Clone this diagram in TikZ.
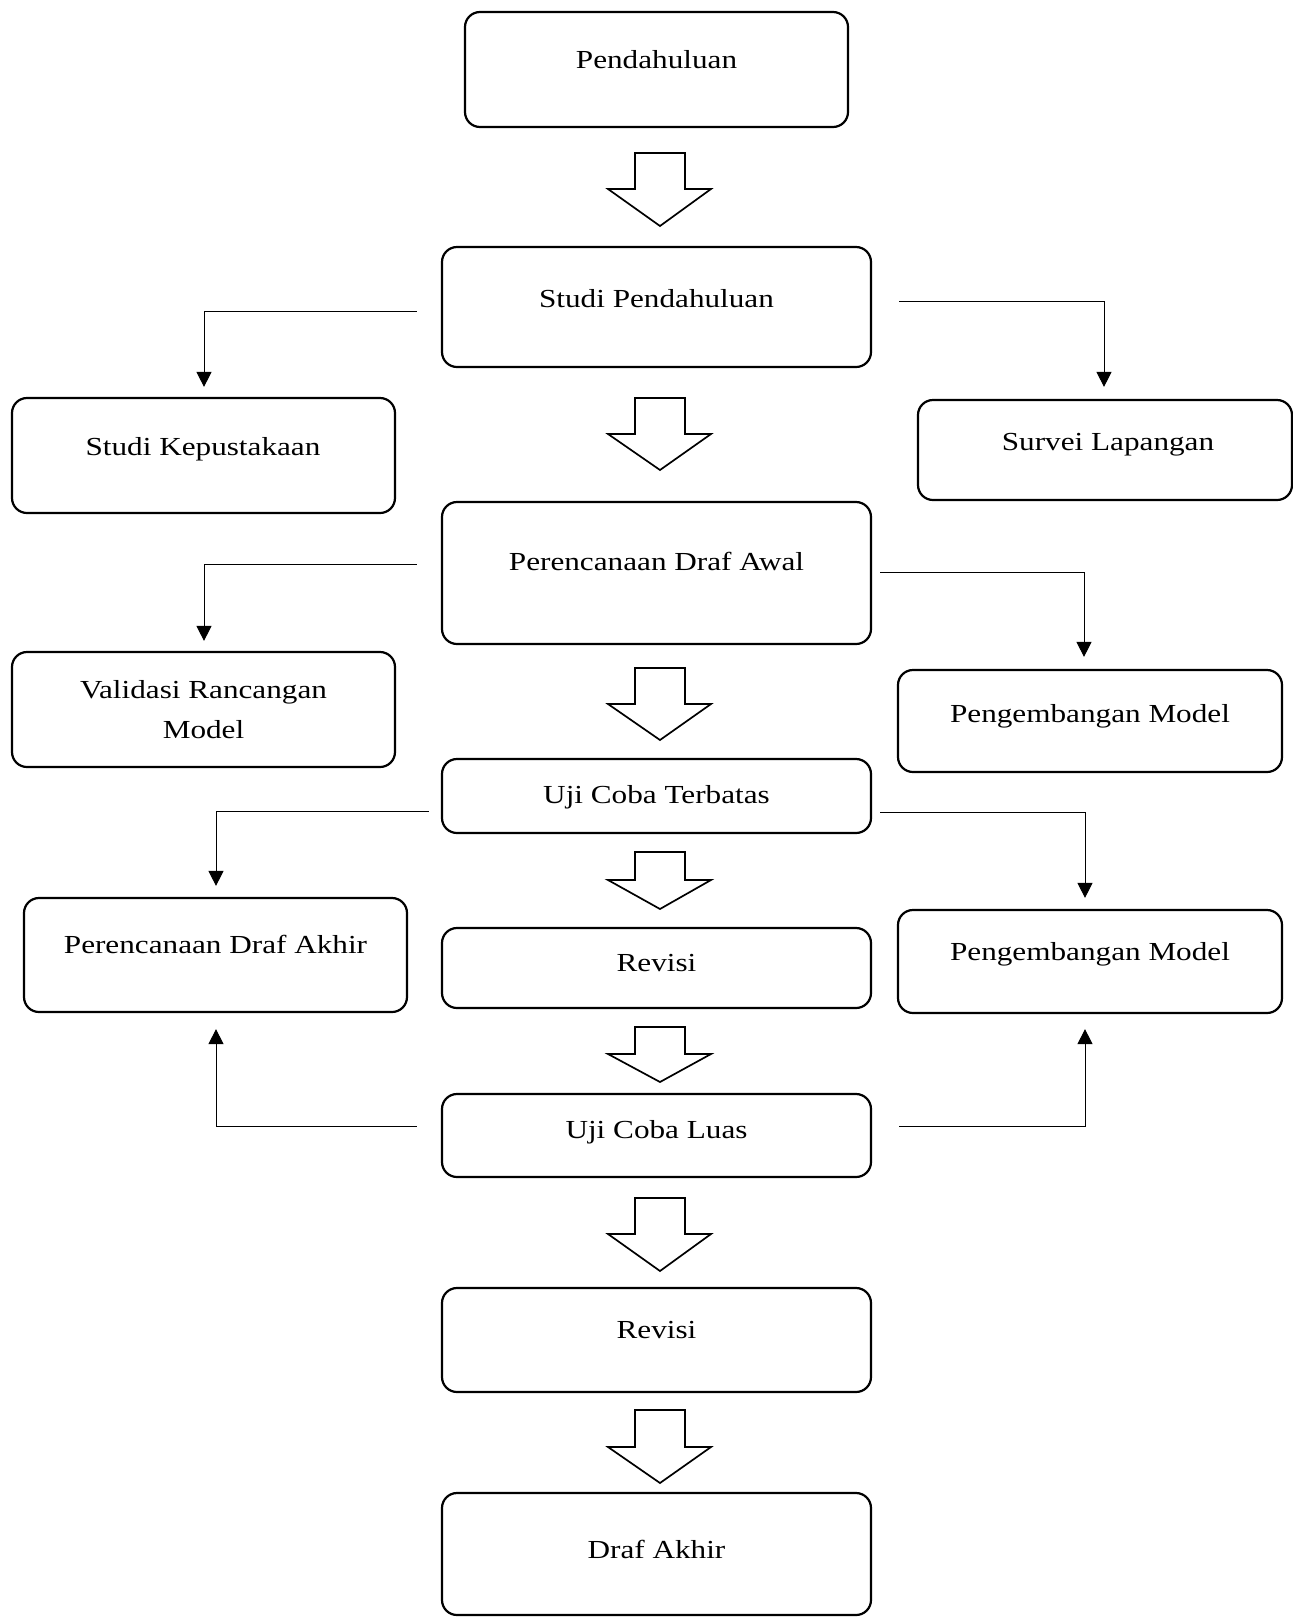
\documentclass[tikz,border=0pt]{standalone}
\usepackage{fontspec}
\setmainfont{Liberation Serif}[FakeStretch=1.2]
\usetikzlibrary{arrows.meta}
\newcommand\flowarrow[3]{\draw[barrow] (635,#1) -- (685,#1) -- (685,#2) -- (711,#2) -- (660,#3) -- (608,#2) -- (635,#2) -- cycle;}
\begin{document}
\begin{tikzpicture}[x=0.5pt,y=-0.5pt,
  box/.style={draw,rounded corners=7.5pt,line width=1.1pt,inner sep=0pt},
  lbl/.style={anchor=base,inner sep=0pt,font=\fontsize{13pt}{15.6pt}\selectfont},
  conn/.style={line width=0.5pt,-{Triangle[length=7.5pt,width=7.5pt]}},
  barrow/.style={draw,line width=0.85pt,line join=miter,fill=white}]
\useasboundingbox[fill=white] (0,0) rectangle (1293,1618);

% boxes
\node[box,minimum width=191.5pt,minimum height=57.5pt] (pend) at (656.5,69.5) {};
\node[box,minimum width=214.5pt,minimum height=60pt] (sp) at (656.5,307) {};
\node[box,minimum width=191.5pt,minimum height=57.5pt] (sk) at (203.5,455.5) {};
\node[box,minimum width=187pt,minimum height=50pt] (sl) at (1105,450) {};
\node[box,minimum width=214.5pt,minimum height=71pt] (pda) at (656.5,573) {};
\node[box,minimum width=191.5pt,minimum height=57.5pt] (vrm) at (203.5,709.5) {};
\node[box,minimum width=192pt,minimum height=51pt] (pm1) at (1090,721) {};
\node[box,minimum width=214.5pt,minimum height=37pt] (uct) at (656.5,796) {};
\node[box,minimum width=191.5pt,minimum height=57pt] (pdak) at (215.5,955) {};
\node[box,minimum width=214.5pt,minimum height=40pt] (rev1) at (656.5,968) {};
\node[box,minimum width=192pt,minimum height=51.5pt] (pm2) at (1090,961.5) {};
\node[box,minimum width=214.5pt,minimum height=41.5pt] (ucl) at (656.5,1135.5) {};
\node[box,minimum width=214.5pt,minimum height=52pt] (rev2) at (656.5,1340) {};
\node[box,minimum width=214.5pt,minimum height=61pt] (da) at (656.5,1554) {};

% labels
\node[lbl] (pend-t) at (656.5,68) {Pendahuluan};
\node[lbl] (sp-t) at (656.5,307) {Studi Pendahuluan};
\node[lbl] (sk-t) at (203,455) {Studi Kepustakaan};
\node[lbl] (sl-t) at (1108,450) {Survei Lapangan};
\node[lbl] (pda-t) at (656.5,570) {Perencanaan Draf Awal};
\node[lbl] (vrm-t1) at (203.5,698) {Validasi Rancangan};
\node[lbl] (vrm-t2) at (203.5,738) {Model};
\node[lbl] (pm1-t) at (1090,722) {Pengembangan Model};
\node[lbl] (uct-t) at (656.5,803) {Uji Coba Terbatas};
\node[lbl] (pdak-t) at (215.5,953) {Perencanaan Draf Akhir};
\node[lbl] (rev1-t) at (656.5,971) {Revisi};
\node[lbl] (pm2-t) at (1090,960) {Pengembangan Model};
\node[lbl] (ucl-t) at (656.5,1138) {Uji Coba Luas};
\node[lbl] (rev2-t) at (656.5,1338) {Revisi};
\node[lbl] (da-t) at (656.5,1558) {Draf Akhir};

% block arrows
\flowarrow{153}{189}{226}
\flowarrow{398}{434}{470}
\flowarrow{668}{704}{740}
\flowarrow{852}{880}{909}
\flowarrow{1027}{1054}{1082}
\flowarrow{1198}{1234}{1271}
\flowarrow{1410}{1447}{1483}

% side connectors
\draw[conn] ([xshift=-12pt,yshift=-2pt]sp.west) -| ([xshift=0.25pt,yshift=5pt]sk.north);
\draw[conn] ([xshift=13.5pt,yshift=3pt]sp.east) -| ([xshift=-0.5pt,yshift=6pt]sl.north);
\draw[conn] ([xshift=-12pt,yshift=4.5pt]pda.west) -| ([xshift=0.25pt,yshift=5pt]vrm.north);
\draw[conn] ([xshift=4pt,yshift=0.5pt]pda.east) -| ([xshift=-3pt,yshift=6pt]pm1.north);
\draw[conn] ([xshift=-6pt,yshift=-7.5pt]uct.west) -| ([xshift=0.25pt,yshift=5.5pt]pdak.north);
\draw[conn] ([xshift=4pt,yshift=-8pt]uct.east) -| ([xshift=-2.5pt,yshift=5.5pt]pm2.north);
\draw[conn] ([xshift=-12pt,yshift=4.75pt]ucl.west) -| ([xshift=0.25pt,yshift=-8pt]pdak.south);
\draw[conn] ([xshift=13.5pt,yshift=4.75pt]ucl.east) -| ([xshift=-2.5pt,yshift=-7.5pt]pm2.south);
\end{tikzpicture}
\end{document}
